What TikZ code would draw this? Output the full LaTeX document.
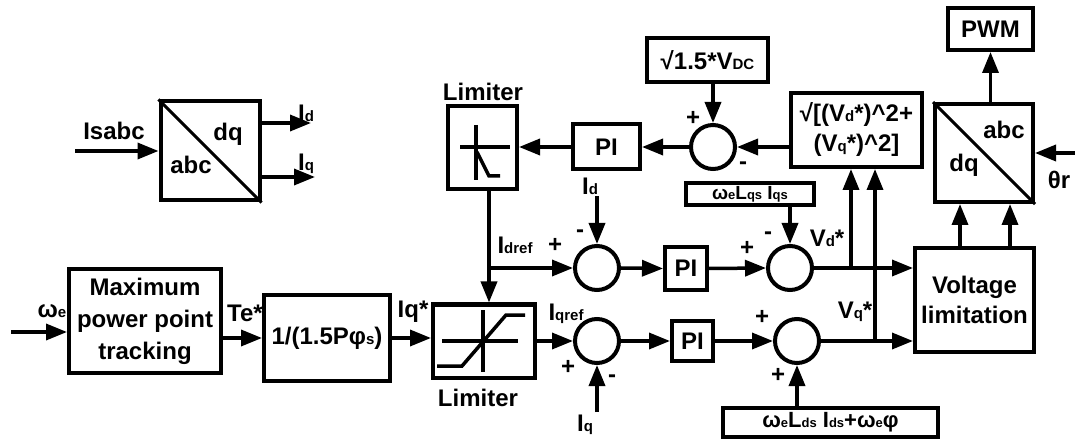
\documentclass[tikz,border=0pt]{standalone}
\usepackage{fontspec}
\setmainfont{Liberation Sans}
\usetikzlibrary{arrows.meta}
\newcommand\sm[1]{{\fontsize{15}{15}\selectfont #1}}
\newcommand\smm[1]{{\fontsize{13}{13}\selectfont #1}}
\begin{document}
\begin{tikzpicture}[x=1pt,y=-1pt,
  blk/.style={draw, line width=4pt, inner sep=0pt, align=center, font=\bfseries\fontsize{24}{30}\selectfont},
  sumc/.style={draw, circle, line width=4pt, minimum size=44pt, inner sep=0pt},
  lbl/.style={inner sep=0pt, font=\bfseries\fontsize{24}{24}\selectfont},
  con/.style={line width=3.5pt, -{Triangle[length=21pt,width=16pt]}},
  ln/.style={line width=3.5pt},
  sym/.style={line width=3.5pt}]
\useasboundingbox (0,0) rectangle (1075,443);

% abc -> dq block
\node[blk, minimum width=99pt, minimum height=99pt] (cT) at (210,151) {};
\draw[line width=3pt] (cT.north west) -- (cT.south east);
\node[lbl] (cTdq) at (228,134) {dq};
\node[lbl] (cTabc) at (191,165) {abc};
\coordinate (isin) at (75,151);
\draw[con] (isin) -- (cT.west);
\node[lbl] (lIs) at (114,131) {Isabc};
\coordinate (idout) at (311,123);
\draw[con] (cT.east |- idout) -- (idout);
\node[lbl] (lId) at (306,113) {I\sm{d}};
\coordinate (iqout) at (315,177);
\draw[con] (cT.east |- iqout) -- (iqout);
\node[lbl] (lIq) at (306,164) {I\sm{q}};

% MPPT and gain
\node[blk, minimum width=152pt, minimum height=103pt, font=\bfseries\fontsize{24}{32}\selectfont] (mppt) at (145,321) {Maximum\\power point\\tracking};
\coordinate (wein) at (11,332);
\draw[con] (wein) -- (mppt.west |- wein);
\node[lbl] (lwe) at (52,311) {ω\sm{e}};
\node[blk, minimum width=126pt, minimum height=85pt] (gain) at (327,338) {1/(1.5Pφ\sm{s})};
\draw[con] (mppt.east |- gain.west) -- (gain.west);
\node[lbl] (lTe) at (245,313) {Te*};

% bottom limiter
\node[blk, minimum width=102pt, minimum height=73pt] (limB) at (484,341) {};
\draw[sym] (442,341) -- (518,341);
\draw[sym] (483,310) -- (483,372);
\draw[sym] (437,366) -- (462,366) -- (506,315) -- (525,315);
\node[lbl] (llimB) at (478,398) {Limiter};
\draw[con] (gain.east) -- (limB.west |- gain.east);
\node[lbl] (lIqs) at (413,312) {Iq*};

% top limiter
\node[blk, minimum width=69pt, minimum height=83pt] (limT) at (482.5,147.5) {};
\draw[sym] (460,147) -- (510,147);
\draw[sym] (476,125) -- (476,180);
\draw[sym] (477,152) -- (489,176) -- (500,176);
\node[lbl] (llimT) at (483,92) {Limiter};

% top loop
\node[blk, minimum width=67pt, minimum height=45pt] (piT) at (606.5,147) {PI};
\node[sumc] (sT) at (713,147) {};
\node[blk, minimum width=121pt, minimum height=44pt] (vdc) at (707.5,60) {√1.5*V\sm{DC}};
\node[blk, minimum width=131pt, minimum height=74pt] (sqrt) at (856.5,130) {√[(V\sm{d}*)\textasciicircum 2+\\(V\sm{q}*)\textasciicircum 2]};
\draw[con] (sqrt.west |- sT.east) -- (sT.east);
\draw[con] (vdc.south -| sT.north) -- (sT.north);
\draw[con] (sT.west) -- (piT.east);
\draw[con] (piT.west) -- (limT.east |- piT.west);
\node[lbl] (pT1) at (693,118) {+};
\node[lbl] (mT1) at (743,166) {-};

% d row
\coordinate (jd) at (489,268);
\draw[ln] (limT.south -| jd) -- (jd);
\draw[con] (jd) -- (limB.north -| jd);
\node[sumc] (sD) at (597,268) {};
\draw[con] (jd) -- (sD.west);
\node[lbl] (lIdref) at (515,245) {I\sm{dref}};
\node[lbl] (pD) at (555,245) {+};
\node[lbl] (mD) at (580,234) {-};
\coordinate (idin) at (597,196);
\draw[con] (idin) -- (sD.north);
\node[lbl] (lId2) at (590,186) {I\sm{d}};
\node[blk, minimum width=42pt, minimum height=43pt] (piD) at (686,268.5) {PI};
\draw[con] (sD.east) -- (piD.west);
\node[sumc] (sVd) at (790,268) {};
\draw[con] (piD.east) -- (sVd.west);
\node[lbl] (pVd) at (747,248) {+};
\node[lbl] (mVd) at (768,236) {-};
\node[blk, minimum width=128pt, minimum height=22pt, font=\bfseries\fontsize{19}{19}\selectfont] (wlq) at (750,194) {ω\smm{e}L\smm{qs} I\smm{qs}};
\draw[con] (wlq.south -| sVd.north) -- (sVd.north);
\node[lbl] (lVd) at (827,238) {V\sm{d}*};

% voltage limitation
\node[blk, minimum width=119pt, minimum height=104pt] (vlim) at (974.5,300) {Voltage\\limitation};
\coordinate (jvd) at (851,268);
\draw[con] (sVd.east) -- (vlim.west |- sVd.east);
\draw[con] (jvd) -- (sqrt.south -| jvd);

% q row
\node[sumc] (sQ) at (597,341) {};
\draw[con] (limB.east |- sQ.west) -- (sQ.west);
\node[lbl] (lIqref) at (566,314) {I\sm{qref}};
\node[lbl] (pQ) at (568,367) {+};
\node[lbl] (mQ) at (612,379) {-};
\coordinate (iqin) at (597,412);
\draw[con] (iqin) -- (sQ.south);
\node[lbl] (lIq2) at (585,425) {I\sm{q}};
\node[blk, minimum width=41pt, minimum height=40pt] (piQ) at (692.5,341) {PI};
\draw[con] (sQ.east) -- (piQ.west);
\node[sumc] (sVq) at (797,341) {};
\draw[con] (piQ.east) -- (sVq.west);
\node[lbl] (pVq1) at (762,317) {+};
\node[lbl] (pVq2) at (778,375) {+};
\node[blk, minimum width=215pt, minimum height=29pt, font=\bfseries\fontsize{22}{22}\selectfont] (wld) at (830.5,422.5) {ω\smm{e}L\smm{ds} I\smm{ds}+ω\smm{e}φ};
\draw[con] (wld.north -| sVq.south) -- (sVq.south);
\coordinate (jvq) at (875,341);
\draw[con] (sVq.east) -- (vlim.west |- sVq.east);
\draw[con] (jvq) -- (sqrt.south -| jvq);
\node[lbl] (lVq) at (855,312) {V\sm{q}*};

% dq -> abc block
\node[blk, minimum width=98pt, minimum height=98pt] (cB) at (984,153) {};
\draw[line width=3pt] (cB.north west) -- (cB.south east);
\node[lbl] (cBabc) at (1004,130) {abc};
\node[lbl] (cBdq) at (964,165) {dq};
\coordinate (u1) at ([xshift=-24pt]cB.south);
\coordinate (u2) at ([xshift=26pt]cB.south);
\draw[con] (vlim.north -| u1) -- (u1);
\draw[con] (vlim.north -| u2) -- (u2);
\node[blk, minimum width=85pt, minimum height=42pt, font=\bfseries\fontsize{24}{24}\selectfont] (pwm) at (990.5,29) {PWM};
\draw[con] (cB.north -| pwm.south) -- (pwm.south);
\coordinate (thin) at (1075,153);
\draw[con] (thin) -- (cB.east |- thin);
\node[lbl] (lth) at (1059,180) {θr};
\end{tikzpicture}
\end{document}
